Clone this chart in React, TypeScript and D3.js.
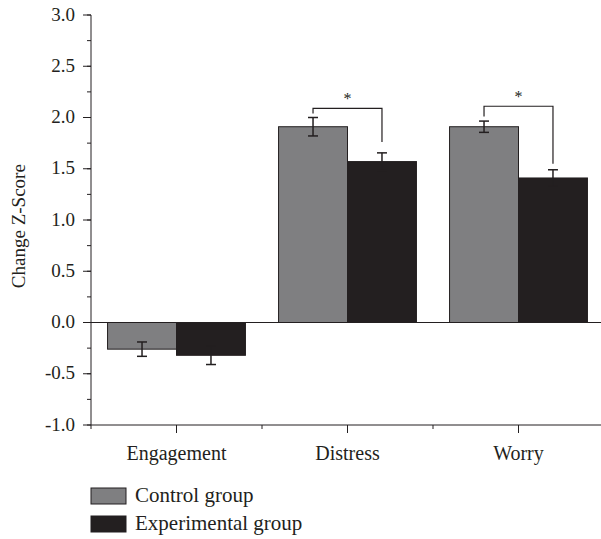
import React from "react";
import * as d3 from "d3";

const categories = ["Engagement", "Distress", "Worry"];
const groups = ["Control group", "Experimental group"];
const controlMeans = [-0.26, 1.91, 1.91];
const controlErr = [0.07, 0.09, 0.055];
const experimentalMeans = [-0.32, 1.57, 1.41];
const experimentalErr = [0.09, 0.085, 0.08];
const yTicks = [-1.0, -0.5, 0.0, 0.5, 1.0, 1.5, 2.0, 2.5, 3.0];
const yMinorTicks = d3.range(-1, 3.001, 0.25);
// significance brackets: category, bracket level, left drop end, right drop end
const brackets = [
  { cat: "Distress", top: 2.09, leftEnd: 2.04, rightEnd: 1.76 },
  { cat: "Worry", top: 2.11, leftEnd: 2.01, rightEnd: 1.55 },
];

const W = 601;
const H = 539;
const colors = ["#7f7f81", "#231f20"];
const FONT = "'Liberation Serif', 'Times New Roman', serif";

export default function App() {
  const left = 91;
  const right = 604;
  const top = 15;
  const bottom = 425;

  const x = d3.scaleBand<string>().domain(categories).range([left, right]).paddingInner(0).paddingOuter(0);
  const inner = d3.scaleBand<string>().domain(groups).range([0, x.bandwidth()]).paddingInner(0).paddingOuter(0.24);
  const y = d3.scaleLinear().domain([-1, 3]).range([bottom, top]);

  const series = [
    { name: groups[0], means: controlMeans, errs: controlErr, color: colors[0] },
    { name: groups[1], means: experimentalMeans, errs: experimentalErr, color: colors[1] },
  ];

  const xBoundaries = [...categories.map((c) => x(c)!), right];

  return (
    <svg width={W} height={H} style={{ position: "absolute", left: 0, top: 0 }} fontFamily={FONT}>
      <rect width={W} height={H} fill="#fff" />
      {/* bars */}
      {series.map((s) =>
        categories.map((c, i) => {
          const bx = x(c)! + inner(s.name)!;
          const v = s.means[i];
          const y0 = y(0);
          const y1 = y(v);
          return (
            <rect
              key={s.name + c}
              x={bx}
              y={Math.min(y0, y1)}
              width={inner.bandwidth()}
              height={Math.abs(y1 - y0)}
              fill={s.color}
              stroke="#231f20"
              strokeWidth={1}
            />
          );
        })
      )}
      {/* error bars */}
      {series.map((s) =>
        categories.map((c, i) => {
          const cx = x(c)! + inner(s.name)! + inner.bandwidth() / 2;
          const v = s.means[i];
          const e = s.errs[i];
          const yA = y(v + e);
          const yB = y(v - e);
          return (
            <g key={"e" + s.name + c} stroke="#231f20" strokeWidth={1.5}>
              <line x1={cx} x2={cx} y1={yA} y2={yB} />
              <line x1={cx - 5} x2={cx + 5} y1={yA} y2={yA} />
              <line x1={cx - 5} x2={cx + 5} y1={yB} y2={yB} />
            </g>
          );
        })
      )}
      {/* zero line */}
      <line x1={left} x2={W} y1={y(0)} y2={y(0)} stroke="#231f20" strokeWidth={1} />
      {/* brackets */}
      {brackets.map((b) => {
        const lx = x(b.cat)! + inner(groups[0])! + inner.bandwidth() / 2;
        const rx = x(b.cat)! + inner(groups[1])! + inner.bandwidth() / 2;
        return (
          <g key={"b" + b.cat}>
            <path
              d={`M${lx},${y(b.leftEnd)}V${y(b.top)}H${rx}V${y(b.rightEnd)}`}
              fill="none"
              stroke="#231f20"
              strokeWidth={1.2}
            />
            <text x={(lx + rx) / 2} y={y(b.top) - 4} textAnchor="middle" fontSize={16} fill="#231f20">
              *
            </text>
          </g>
        );
      })}
      {/* y axis */}
      <line x1={left} x2={left} y1={top} y2={bottom} stroke="#231f20" strokeWidth={1} />
      {yMinorTicks.map((t) => (
        <line key={"ym" + t} x1={left - 4} x2={left} y1={y(t)} y2={y(t)} stroke="#231f20" strokeWidth={1} />
      ))}
      {yTicks.map((t) => (
        <g key={"y" + t}>
          <line x1={left - 8} x2={left} y1={y(t)} y2={y(t)} stroke="#231f20" strokeWidth={1} />
          <text x={left - 16} y={y(t)} dy="0.3em" textAnchor="end" fontSize={19} fill="#231f20">
            {d3.format(".1f")(t).replace("−", "-")}
          </text>
        </g>
      ))}
      <text
        transform={`translate(25,${(y(1.58) + y(0.3)) / 2}) rotate(-90)`}
        textAnchor="middle"
        fontSize={19}
        fill="#231f20"
      >
        Change Z-Score
      </text>
      {/* x axis */}
      <line x1={left} x2={W} y1={bottom} y2={bottom} stroke="#231f20" strokeWidth={1} />
      {xBoundaries.map((bx, i) => (
        <line key={"xm" + i} x1={bx} x2={bx} y1={bottom} y2={bottom + 4} stroke="#231f20" strokeWidth={1} />
      ))}
      {categories.map((c) => (
        <g key={"x" + c}>
          <line
            x1={x(c)! + x.bandwidth() / 2}
            x2={x(c)! + x.bandwidth() / 2}
            y1={bottom}
            y2={bottom + 8}
            stroke="#231f20"
            strokeWidth={1}
          />
          <text x={x(c)! + x.bandwidth() / 2} y={bottom + 35} textAnchor="middle" fontSize={20} fill="#231f20">
            {c}
          </text>
        </g>
      ))}
      {/* legend */}
      {series.map((s, i) => (
        <g key={"l" + s.name} transform={`translate(91,${488 + i * 28})`}>
          <rect x={0} y={0} width={35} height={16} fill={s.color} stroke="#231f20" strokeWidth={1} />
          <text x={44} y={14} fontSize={21} fill="#231f20">
            {s.name}
          </text>
        </g>
      ))}
    </svg>
  );
}
